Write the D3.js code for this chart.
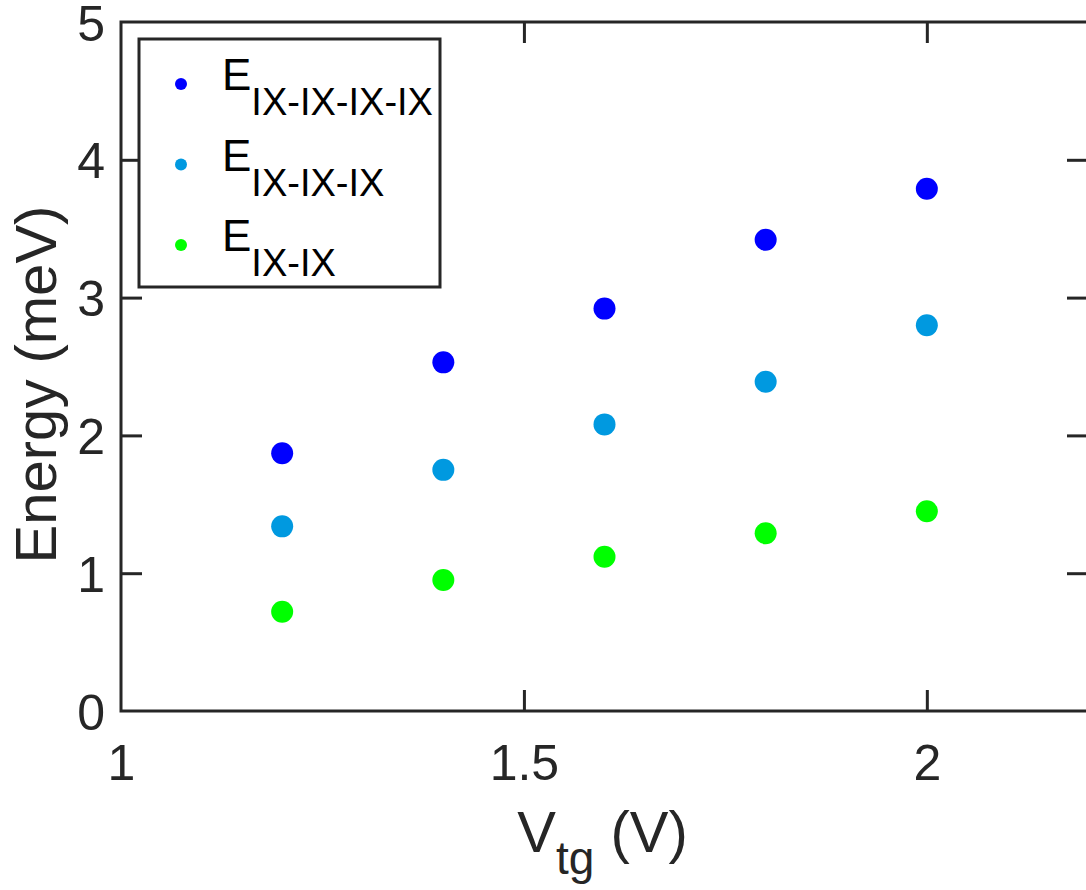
<!DOCTYPE html>
<html>
<head>
<meta charset="utf-8">
<script src="https://cdn.jsdelivr.net/npm/d3@7"></script>
<style>
  body { margin: 0; background: #fff; }
  text { font-family: "Liberation Sans", Arial, Helvetica, sans-serif; fill: #262626; }
</style>
</head>
<body>
<div id="chart"></div>
<script>
// 데이터
const vtg = [1.2, 1.4, 1.6, 1.8, 2.0];
const eQuad = [1.87, 2.53, 2.92, 3.42, 3.79];   // E_IX-IX-IX-IX
const eTri = [1.34, 1.75, 2.08, 2.39, 2.80];    // E_IX-IX-IX
const ePair = [0.72, 0.95, 1.12, 1.29, 1.45];   // E_IX-IX
const xTicks = [1, 1.5, 2];
const yTicks = [0, 1, 2, 3, 4, 5];

const seriesNames = ["IX-IX-IX-IX", "IX-IX-IX", "IX-IX"];
const seriesColors = ["#0000ff", "#0099e0", "#00ff00"];
const seriesValues = [eQuad, eTri, ePair];

const width = 1086, height = 890;
const m = { left: 121, right: 1088, top: 22, bottom: 711 };
const axisColor = "#262626";

const svg = d3.select("#chart").append("svg")
    .attr("width", width)
    .attr("height", height);

const x = d3.scaleLinear().domain([1, 2.2]).range([m.left, m.right]);
const y = d3.scaleLinear().domain([0, 5]).range([m.bottom, m.top]);

// 축 상자
svg.append("rect")
    .attr("x", m.left).attr("y", m.top)
    .attr("width", m.right - m.left).attr("height", m.bottom - m.top)
    .attr("fill", "none").attr("stroke", axisColor).attr("stroke-width", 3);

// 아래 / 위 / 좌 / 우 축 (안쪽 눈금)
const xb = svg.append("g").attr("transform", `translate(0,${m.bottom})`)
    .call(d3.axisBottom(x).tickValues(xTicks).tickSize(-21).tickPadding(33).tickFormat(d3.format("")));
const xt = svg.append("g").attr("transform", `translate(0,${m.top})`)
    .call(d3.axisTop(x).tickValues(xTicks).tickSize(-21).tickFormat(""));
const yl = svg.append("g").attr("transform", `translate(${m.left},0)`)
    .call(d3.axisLeft(y).tickValues(yTicks).tickSize(-21).tickPadding(16).tickFormat(d3.format("d")));
const yr = svg.append("g").attr("transform", `translate(${m.right},0)`)
    .call(d3.axisRight(y).tickValues(yTicks).tickSize(-21).tickFormat(""));

[xb, xt, yl, yr].forEach(g => {
    g.select(".domain").remove();
    g.selectAll(".tick line").attr("stroke", axisColor).attr("stroke-width", 3);
    g.selectAll(".tick text").style("font-size", "50px").attr("fill", axisColor);
});
// 양 끝 눈금은 상자와 겹치므로 제거
xb.selectAll(".tick line").filter(d => d === 1).remove();
xt.selectAll(".tick line").filter(d => d === 1).remove();
yl.selectAll(".tick line").filter(d => d === 0 || d === 5).remove();
yr.selectAll(".tick line").filter(d => d === 0 || d === 5).remove();
yl.selectAll(".tick text").attr("dy", "0.36em");

// 점
seriesValues.forEach((vals, i) => {
    svg.append("g").selectAll("circle")
        .data(vals)
        .enter().append("circle")
        .attr("cx", (d, j) => x(vtg[j]))
        .attr("cy", d => y(d))
        .attr("r", 11)
        .attr("fill", seriesColors[i]);
});

// 축 제목
const xl = svg.append("text")
    .attr("x", (m.left + m.right) / 2 - 2)
    .attr("y", 852)
    .attr("text-anchor", "middle")
    .style("font-size", "58px");
xl.append("tspan").text("V");
xl.append("tspan").attr("dy", 22).style("font-size", "46px").text("tg");
xl.append("tspan").attr("dy", -22).text(" (V)");

svg.append("text")
    .attr("transform", `translate(56,${(m.top + m.bottom) / 2 + 18}) rotate(-90)`)
    .attr("text-anchor", "middle")
    .style("font-size", "58px")
    .text("Energy (meV)");

// 범례
const legend = svg.append("g");
legend.append("rect")
    .attr("x", 139).attr("y", 39).attr("width", 301).attr("height", 248)
    .attr("fill", "#fff").attr("stroke", axisColor).attr("stroke-width", 3);
seriesNames.forEach((name, i) => {
    const cy = 84 + i * 80.5;
    legend.append("circle")
        .attr("cx", 181).attr("cy", cy).attr("r", 6)
        .attr("fill", seriesColors[i]);
    const t = legend.append("text")
        .attr("x", 222).attr("y", cy + 6)
        .style("font-size", "44px")
        .attr("fill", "#000");
    t.append("tspan").text("E").attr("fill", "#000");
    t.append("tspan").attr("dy", 25).style("font-size", "38px").attr("fill", "#000").text(name);
});
</script>
</body>
</html>
